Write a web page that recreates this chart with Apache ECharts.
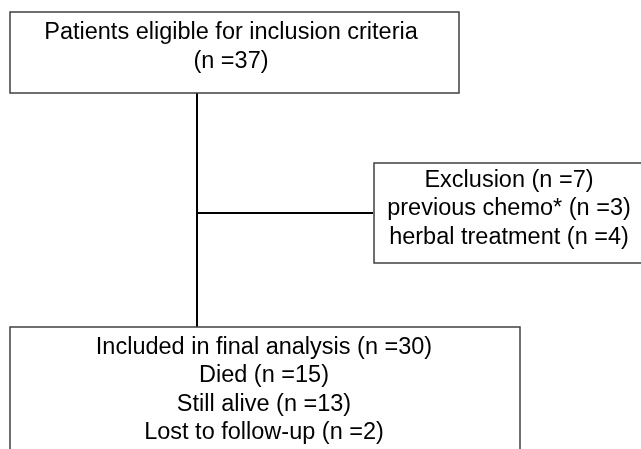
<!DOCTYPE html>
<html>
<head>
<meta charset="utf-8">
<script src="https://cdn.jsdelivr.net/npm/echarts@6/dist/echarts.min.js"></script>
<style>
  html, body { margin: 0; padding: 0; background: #fff; }
  #chart { width: 641px; height: 449px; }
</style>
</head>
<body>
<div id="chart"></div>
<script>
// flow counts
const eligibleLabel = 'Patients eligible for inclusion criteria'
const eligibleN = 37
const exclusionLabel = 'Exclusion'
const exclusionN = 7
const exclusionReasons = ['previous chemo*', 'herbal treatment']
const exclusionCounts = [3, 4]
const includedLabel = 'Included in final analysis'
const includedN = 30
const outcomeLabels = ['Died', 'Still alive', 'Lost to follow-up']
const outcomeCounts = [15, 13, 2]

const nText = n => '(n =' + n + ')'

const boxTexts = [
  eligibleLabel + '\n' + nText(eligibleN),
  [exclusionLabel + ' ' + nText(exclusionN)]
    .concat(exclusionReasons.map((r, i) => r + ' ' + nText(exclusionCounts[i])))
    .join('\n'),
  [includedLabel + ' ' + nText(includedN)]
    .concat(outcomeLabels.map((r, i) => r + ' ' + nText(outcomeCounts[i])))
    .join('\n')
]

// layout (page units, y downwards): x0, y0, x1, y1, text centre x, text centre y
const layout = [
  [10, 12, 459, 93, 231, 47],
  [374, 163, 645, 263, 509, 209],
  [10, 327, 520, 470, 264, 390]
]
const connectors = [
  [[197, 93], [197, 327]],
  [[197, 213], [373, 213]]
]

const chart = echarts.init(document.getElementById('chart'))

const option = {
  backgroundColor: '#fff',
  animation: false,
  grid: { left: 0, right: 0, top: 0, bottom: 0 },
  xAxis: { type: 'value', min: 0, max: 641, show: false },
  yAxis: { type: 'value', min: 0, max: 449, inverse: true, show: false },
  series: [
    {
      type: 'lines',
      coordinateSystem: 'cartesian2d',
      silent: true,
      lineStyle: { color: '#000', width: 2, opacity: 1 },
      data: connectors.map(c => ({ coords: c }))
    },
    {
      type: 'custom',
      clip: false,
      silent: true,
      renderItem: (params, api) => {
        const p0 = api.coord([api.value(0), api.value(1)])
        const p1 = api.coord([api.value(2), api.value(3)])
        const c = api.coord([api.value(4), api.value(5)])
        return {
          type: 'group',
          children: [
            {
              type: 'rect',
              shape: { x: p0[0], y: p0[1], width: p1[0] - p0[0], height: p1[1] - p0[1] },
              style: { fill: '#fff', stroke: '#404040', lineWidth: 1.5 }
            },
            {
              type: 'text',
              x: c[0],
              y: c[1],
              style: {
                text: boxTexts[params.dataIndex],
                fontFamily: 'Liberation Sans, Arial, sans-serif',
                fontSize: 23.5,
                lineHeight: 28.5,
                fill: '#000',
                align: 'center',
                verticalAlign: 'middle'
              }
            }
          ]
        }
      },
      data: layout
    }
  ]
}

chart.setOption(option)
</script>
</body>
</html>
